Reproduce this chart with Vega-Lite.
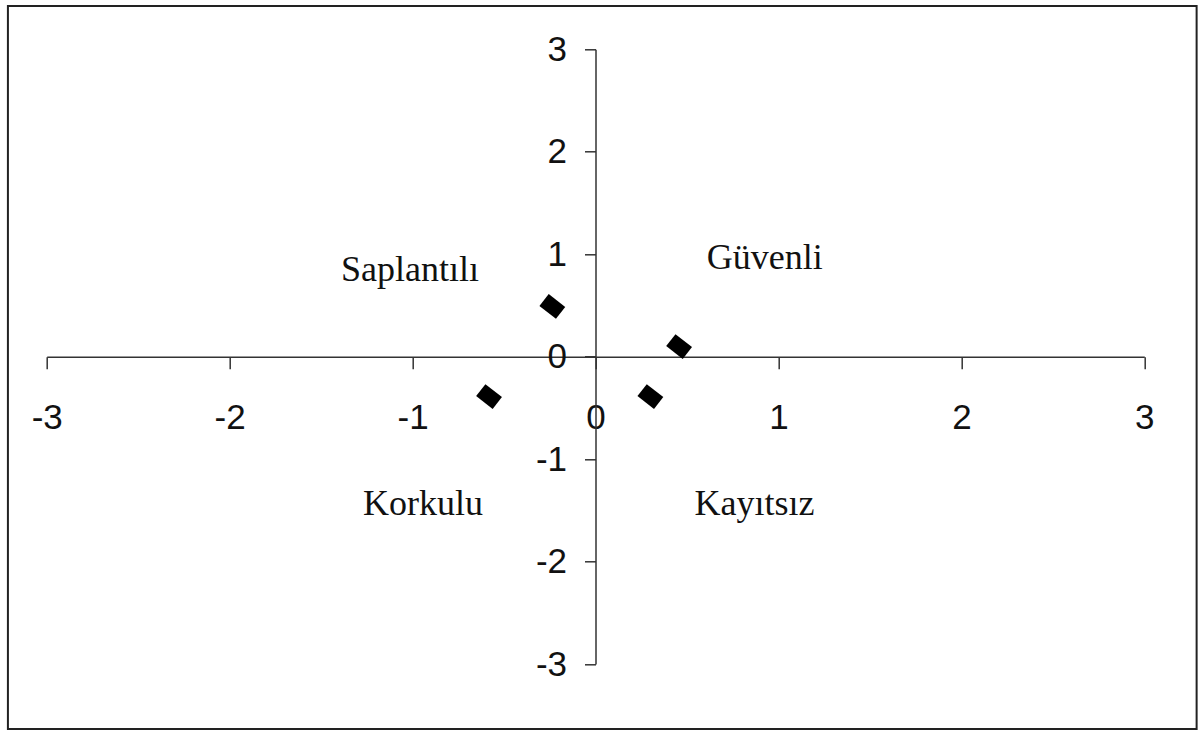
{
  "$schema": "https://vega.github.io/schema/vega-lite/v6.json",
  "autosize": "none",
  "width": 1097.6,
  "height": 614.7,
  "padding": {"left": 46.7, "top": 49.3, "right": 55.7, "bottom": 72},
  "background": "white",
  "config": {"view": {"stroke": null}},
  "datasets": {
    "points": [
      {"x": -0.236, "y": 0.49},
      {"x": 0.457, "y": 0.098},
      {"x": -0.582, "y": -0.39},
      {"x": 0.30, "y": -0.39}
    ],
    "labels": [
      {"x": -1.014, "y": 0.74, "label": "Saplantılı"},
      {"x": 0.925, "y": 0.856, "label": "Güvenli"},
      {"x": -0.943, "y": -1.546, "label": "Korkulu"},
      {"x": 0.869, "y": -1.546, "label": "Kayıtsız"}
    ],
    "frame": [
      {"x1": -3.212, "x2": 3.286, "y1": 3.423, "y2": -3.634}
    ]
  },
  "layer": [
    {
      "data": {"name": "frame"},
      "mark": {"type": "rect", "fill": null, "stroke": "#222222", "strokeWidth": 2},
      "encoding": {
        "x": {"field": "x1", "type": "quantitative", "scale": {"domain": [-3, 3], "nice": false, "zero": false},
          "axis": {"orient": "bottom", "offset": -307.35, "values": [-3, -2, -1, 0, 1, 2, 3], "title": null, "grid": false,
            "labelExpr": "toString(datum.value)",
            "domainColor": "#333333", "domainWidth": 1.5, "tickColor": "#333333", "tickWidth": 1.5, "tickSize": 12,
            "labelFont": "Liberation Sans", "labelFontSize": 35, "labelColor": "#111111", "labelPadding": 32, "labelBaseline": "top", "labelFlush": false, "labelOverlap": false}},
        "x2": {"field": "x2"},
        "y": {"field": "y1", "type": "quantitative", "scale": {"domain": [-3, 3], "nice": false, "zero": false},
          "axis": {"orient": "left", "offset": -548.8, "values": [-3, -2, -1, 0, 1, 2, 3], "title": null, "grid": false,
            "labelExpr": "toString(datum.value)",
            "domainColor": "#333333", "domainWidth": 1.5, "tickColor": "#333333", "tickWidth": 1.5, "tickSize": 11,
            "labelFont": "Liberation Sans", "labelFontSize": 35, "labelColor": "#111111", "labelPadding": 18, "labelFlush": false, "labelOverlap": false}},
        "y2": {"field": "y2"}
      }
    },
    {
      "data": {"name": "points"},
      "mark": {"type": "point", "shape": "M -1 -0.72 L 1 -0.72 L 1 0.72 L -1 0.72 Z", "filled": true, "fill": "#000000", "opacity": 1, "size": 440, "angle": 38},
      "encoding": {
        "x": {"field": "x", "type": "quantitative"},
        "y": {"field": "y", "type": "quantitative"}
      }
    },
    {
      "data": {"name": "labels"},
      "mark": {"type": "text", "font": "Liberation Serif", "fontSize": 36, "color": "#111111", "align": "center", "baseline": "alphabetic"},
      "encoding": {
        "x": {"field": "x", "type": "quantitative"},
        "y": {"field": "y", "type": "quantitative"},
        "text": {"field": "label"}
      }
    }
  ]
}
